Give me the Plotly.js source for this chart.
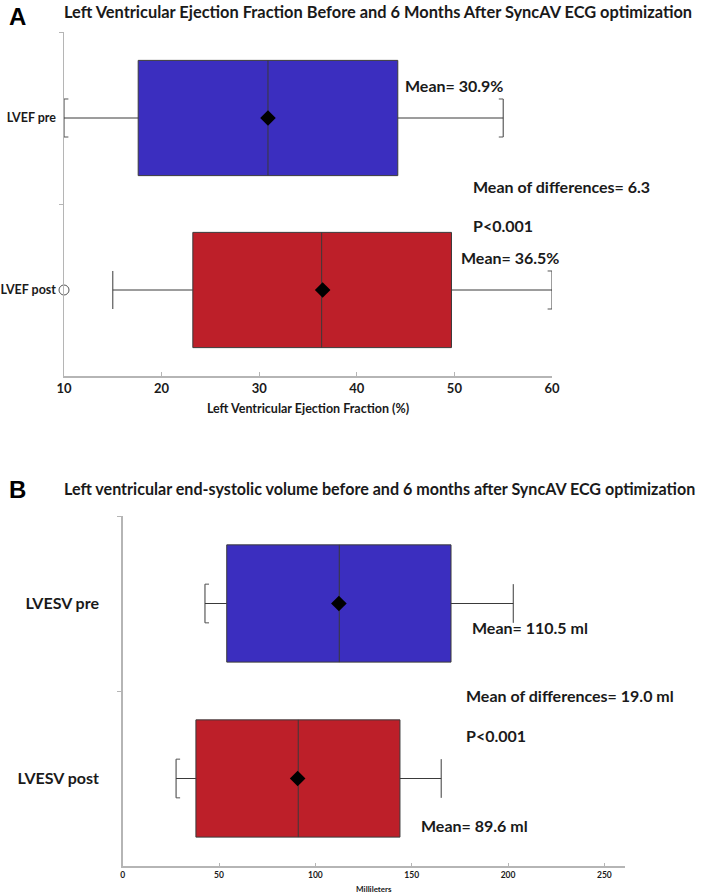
<!DOCTYPE html>
<html>
<head>
<meta charset="utf-8">
<script src="https://cdn.plot.ly/plotly-3.0.1.min.js"></script>
<style>html,body{margin:0;padding:0;background:#fff;}#chart{width:702px;height:894px;}</style>
</head>
<body>
<div id="chart"></div>
<script>
// ---- Panel A data: LVEF (%) ----
const efCategories = ['LVEF pre', 'LVEF post'];
const efQ1 = [17.6, 23.2];
const efMedian = [30.9, 36.4];
const efQ3 = [44.2, 49.7];
const efLowerWhisker = [10, 15];
const efUpperWhisker = [55, 60];
const efMean = [30.9, 36.5];
const efOutliers = [[], [10]];
const efXTicks = [10, 20, 30, 40, 50, 60];

// ---- Panel B data: LVESV (ml) ----
const esvCategories = ['LVESV pre', 'LVESV post'];
const esvQ1 = [54, 38];
const esvMedian = [112.4, 91.1];
const esvQ3 = [170.4, 143.9];
const esvLowerWhisker = [42.7, 27.7];
const esvUpperWhisker = [202.7, 165.3];
const esvMean = [112.2, 90.8];
const esvXTicks = [0, 50, 100, 150, 200, 250];

// whisker ends drawn with a bracket
const efBracketLower = [true, false];
const efBracketUpper = [true, true];
const esvBracketLower = [true, true];
const esvBracketUpper = [false, false];

const W = 702, H = 894;
const px = x => x / W;
const py = y => 1 - y / H;
const FONT = 'Lato, "Open Sans", sans-serif';
const fills = ['#3b2ebf', '#bd1f29'];
const BOXW = 0.67, WHISK = 0.33;

function boxTraces(cats, q1, med, q3, lo, hi, mean, xa, ya) {
  const t = [];
  cats.forEach((c, i) => {
    t.push({
      type: 'box', orientation: 'h', y: [c],
      q1: [q1[i]], median: [med[i]], q3: [q3[i]],
      lowerfence: [lo[i]], upperfence: [hi[i]],
      fillcolor: fills[i], line: {color: '#3a3a3a', width: 1},
      whiskerwidth: WHISK, width: BOXW, boxpoints: false,
      xaxis: xa, yaxis: ya, showlegend: false, hoverinfo: 'skip'
    });
  });
  t.push({
    type: 'scatter', mode: 'markers', x: mean, y: cats,
    marker: {symbol: 'diamond', size: 12, color: '#000'},
    xaxis: xa, yaxis: ya, showlegend: false, hoverinfo: 'skip'
  });
  return t;
}

const traces = [
  ...boxTraces(efCategories, efQ1, efMedian, efQ3, efLowerWhisker, efUpperWhisker, efMean, 'x', 'y'),
  ...boxTraces(esvCategories, esvQ1, esvMedian, esvQ3, esvLowerWhisker, esvUpperWhisker, esvMean, 'x2', 'y2')
];
const oxs = [], oys = [];
efOutliers.forEach((arr, i) => arr.forEach(v => { oxs.push(v); oys.push(efCategories[i]); }));
traces.push({
  type: 'scatter', mode: 'markers', x: oxs, y: oys, cliponaxis: false,
  marker: {symbol: 'circle-open', size: 10, color: '#555', line: {width: 1}},
  xaxis: 'x', yaxis: 'y', showlegend: false, hoverinfo: 'skip'
});

// bracket stubs on whisker caps
const shapes = [];
function brackets(lo, hi, bl, bu, stub, xref, yref) {
  const h = BOXW * WHISK / 2;
  lo.forEach((v, i) => {
    if (bl[i]) {
      shapes.push({type: 'line', xref, yref, x0: v, x1: v + stub, y0: i - h, y1: i - h, line: {color: '#555', width: 1}});
      shapes.push({type: 'line', xref, yref, x0: v, x1: v + stub, y0: i + h, y1: i + h, line: {color: '#555', width: 1}});
    }
    if (bu[i]) {
      shapes.push({type: 'line', xref, yref, x0: hi[i], x1: hi[i] - stub, y0: i - h, y1: i - h, line: {color: '#555', width: 1}});
      shapes.push({type: 'line', xref, yref, x0: hi[i], x1: hi[i] - stub, y0: i + h, y1: i + h, line: {color: '#555', width: 1}});
    }
  });
}
brackets(efLowerWhisker, efUpperWhisker, efBracketLower, efBracketUpper, 0.45, 'x', 'y');
brackets(esvLowerWhisker, esvUpperWhisker, esvBracketLower, esvBracketUpper, 2.1, 'x2', 'y2');

function ann(text, x, y, size, opts) {
  return Object.assign({
    text, xref: 'paper', yref: 'paper', x: px(x), y: py(y),
    xanchor: 'left', yanchor: 'middle', showarrow: false,
    font: {family: FONT, size, color: '#1a1a1a', weight: 'bold'}
  }, opts || {});
}

const annotations = [
  ann('A', 7, 17, 24, {font: {family: 'Liberation Sans, Arial, sans-serif', size: 24, color: '#000', weight: 'bold'}}),
  ann('Left Ventricular Ejection Fraction Before and 6 Months After SyncAV ECG optimization', 62, 12, 16.4),
  ann('Mean= ' + efMean[0] + '%', 403, 85, 16),
  ann('Mean of differences= 6.3', 471, 186, 16),
  ann('P<0.001', 471, 225, 16),
  ann('Mean= ' + efMean[1] + '%', 459, 257, 16),
  ann('B', 7, 490, 24, {font: {family: 'Liberation Sans, Arial, sans-serif', size: 24, color: '#000', weight: 'bold'}}),
  ann('Left ventricular end-systolic volume before and 6 months after SyncAV ECG optimization', 62, 488, 16.1),
  ann('Mean= 110.5 ml', 470, 627, 16),
  ann('Mean of differences= 19.0 ml', 464, 695, 16),
  ann('P<0.001', 464, 735, 16),
  ann('Mean= 89.6 ml', 419, 825, 16)
];

const axisLine = '#b5b5b5';
const layout = {
  width: W, height: H,
  margin: {l: 0, r: 0, t: 0, b: 0},
  paper_bgcolor: '#fff', plot_bgcolor: '#fff',
  boxmode: 'overlay', showlegend: false,
  font: {family: FONT, color: '#1a1a1a'},
  xaxis: {
    domain: [px(64), px(552)], anchor: 'y', range: [10, 60],
    tickvals: efXTicks, ticks: 'inside', ticklen: 4, tickcolor: axisLine,
    showline: true, linecolor: axisLine, linewidth: 1.5, showgrid: false, zeroline: false,
    tickfont: {family: FONT, size: 13, weight: 'bold', color: '#1a1a1a'},
    title: {text: 'Left Ventricular Ejection Fraction (%)', font: {family: FONT, size: 12.5, weight: 'bold', color: '#1a1a1a'}, standoff: 9}
  },
  yaxis: {
    domain: [py(376), py(32)], anchor: 'x', type: 'category',
    categoryorder: 'array', categoryarray: efCategories, range: [1.5, -0.5],
    tickson: 'boundaries', ticks: 'outside', ticklen: 4, tickcolor: axisLine,
    showline: true, linecolor: axisLine, linewidth: 1.5, showgrid: false, zeroline: false,
    ticklabelstandoff: 4,
    tickfont: {family: FONT, size: 12.5, weight: 'bold', color: '#1a1a1a'}
  },
  xaxis2: {
    domain: [px(122.7), px(625)], anchor: 'y2', range: [0, 260.7],
    tickvals: esvXTicks, ticks: 'inside', ticklen: 3, tickcolor: axisLine,
    showline: true, linecolor: axisLine, linewidth: 1.5, showgrid: false, zeroline: false,
    tickfont: {family: FONT, size: 8.5, weight: 'bold', color: '#1a1a1a'},
    title: {text: 'Millileters', font: {family: FONT, size: 8, weight: 'bold', color: '#1a1a1a'}, standoff: 9}
  },
  yaxis2: {
    domain: [py(866), py(516)], anchor: 'x2', type: 'category',
    categoryorder: 'array', categoryarray: esvCategories, range: [1.5, -0.5],
    tickson: 'boundaries', ticks: 'outside', ticklen: 4, tickcolor: axisLine,
    showline: true, linecolor: axisLine, linewidth: 1.5, showgrid: false, zeroline: false,
    ticklabelstandoff: 19,
    tickfont: {family: FONT, size: 16, weight: 'bold', color: '#1a1a1a'}
  },
  shapes, annotations
};

Plotly.newPlot('chart', traces, layout, {displayModeBar: false, staticPlot: true});
</script>
</body>
</html>
